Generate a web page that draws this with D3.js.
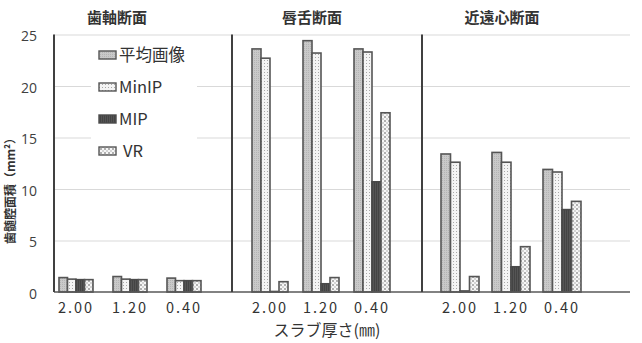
<!DOCTYPE html>
<html>
<head>
<meta charset="utf-8">
<script src="https://cdn.jsdelivr.net/npm/d3@7"></script>
<style>
  body { margin: 0; background: #fff; }
  svg { display: block; }
</style>
</head>
<body>
<script>
// データ
var panels = ["歯軸断面", "唇舌断面", "近遠心断面"];
var slabs = ["2.00", "1.20", "0.40"];
var seriesNames = ["平均画像", "MinIP", "MIP", "VR"];
var yTicks = [0, 5, 10, 15, 20, 25];

// 値は パネル順 (歯軸, 唇舌, 近遠心) x スラブ厚 (2.00, 1.20, 0.40)
var meanVals = [1.4, 1.5, 1.35, 23.6, 24.4, 23.6, 13.4, 13.55, 11.9];
var minipVals = [1.25, 1.25, 1.1, 22.7, 23.2, 23.3, 12.6, 12.6, 11.65];
var mipVals = [1.2, 1.2, 1.1, 0.05, 0.8, 10.7, 0.1, 2.45, 8.0];
var vrVals = [1.2, 1.2, 1.1, 1.0, 1.4, 17.4, 1.5, 4.4, 8.8];

var allVals = [meanVals, minipVals, mipVals, vrVals];

var width = 642, height = 343;
var plotLeft = 54, plotRight = 630, plotTop = 34.5, plotBottom = 292;

// パネルごとの配置
var layout = [
  { g0: 49, g1: 211, bw: 8.5, tx: 117 },
  { g0: 244.5, g1: 397.5, bw: 9, tx: 312 },
  { g0: 434.5, g1: 587.5, bw: 9.5, tx: 502 }
];

var svg = d3.select("body").append("svg")
  .attr("width", width)
  .attr("height", height);

// パターン
var defs = svg.append("defs");

var p1 = defs.append("pattern").attr("id", "patMean")
  .attr("patternUnits", "userSpaceOnUse").attr("width", 2).attr("height", 2);
p1.append("rect").attr("width", 2).attr("height", 2).attr("fill", "#c9c9c9");
p1.append("rect").attr("width", 1).attr("height", 1).attr("fill", "#b4b4b4");

var p2 = defs.append("pattern").attr("id", "patMinip")
  .attr("patternUnits", "userSpaceOnUse").attr("width", 3).attr("height", 3);
p2.append("rect").attr("width", 3).attr("height", 3).attr("fill", "#f4f4f4");
p2.append("rect").attr("width", 1).attr("height", 1).attr("fill", "#a8a8a8");

var p3 = defs.append("pattern").attr("id", "patMip")
  .attr("patternUnits", "userSpaceOnUse").attr("width", 2).attr("height", 2);
p3.append("rect").attr("width", 2).attr("height", 2).attr("fill", "#555");
p3.append("rect").attr("width", 1).attr("height", 2).attr("fill", "#444");

var p4 = defs.append("pattern").attr("id", "patVr")
  .attr("patternUnits", "userSpaceOnUse").attr("width", 4).attr("height", 4);
p4.append("rect").attr("width", 4).attr("height", 4).attr("fill", "#f6f6f6");
p4.append("rect").attr("x", 0).attr("y", 0).attr("width", 2).attr("height", 2).attr("fill", "#b0b0b0");
p4.append("rect").attr("x", 2).attr("y", 2).attr("width", 2).attr("height", 2).attr("fill", "#d4d4d4");

var fills = ["url(#patMean)", "url(#patMinip)", "url(#patMip)", "url(#patVr)"];
var strokes = ["#555", "#555", "#4a4a4a", "#555"];

var y = d3.scaleLinear().domain([0, 25]).range([plotBottom, plotTop]);

// グリッド線
var grid = svg.append("g")
  .attr("transform", "translate(" + plotLeft + ",0)")
  .call(d3.axisLeft(y).tickValues(yTicks.slice(1)).tickSize(-(plotRight - plotLeft)).tickFormat(""));
grid.select(".domain").remove();
grid.selectAll("line").attr("stroke", "#d9d9d9").attr("stroke-width", 1);

// Y軸ラベル
var yAxis = svg.append("g")
  .attr("transform", "translate(37,0)")
  .call(d3.axisLeft(y).tickValues(yTicks).tickSize(0).tickPadding(0));
yAxis.select(".domain").remove();
yAxis.selectAll("text")
  .attr("dy", "0.45em")
  .attr("font-family", "'Open Sans', sans-serif")
  .attr("font-size", 14)
  .attr("fill", "#404040");

// 凡例の背景
svg.append("rect")
  .attr("x", 91).attr("y", 40)
  .attr("width", 106).attr("height", 144)
  .attr("fill", "#fff");

// 棒
panels.forEach(function(pName, pi) {
  var L = layout[pi];
  var x0 = d3.scaleBand().domain(slabs).range([L.g0, L.g1]);
  var x1 = d3.scaleBand().domain(seriesNames).range([0, L.bw * 4]);

  var g = svg.append("g");
  slabs.forEach(function(s, si) {
    var gx = x0(s) + x0.bandwidth() / 2 - L.bw * 2;
    seriesNames.forEach(function(name, k) {
      var v = allVals[k][pi * 3 + si];
      g.append("rect")
        .attr("x", gx + x1(name))
        .attr("y", y(v))
        .attr("width", x1.bandwidth())
        .attr("height", plotBottom - y(v))
        .attr("fill", fills[k])
        .attr("stroke", strokes[k])
        .attr("stroke-width", 1.6);
    });
  });

  // X軸ラベル
  var xAxis = svg.append("g")
    .attr("transform", "translate(0,301)")
    .call(d3.axisBottom(x0).tickSize(0).tickPadding(0));
  xAxis.select(".domain").remove();
  xAxis.selectAll("text")
    .attr("dy", "0.85em")
    .attr("font-family", "'Noto Sans CJK JP', sans-serif")
    .attr("font-size", 14.5)
    .attr("letter-spacing", "2px")
    .attr("fill", "#333");

  // パネルタイトル
  svg.append("text")
    .attr("x", L.tx)
    .attr("y", 23)
    .attr("text-anchor", "middle")
    .attr("font-family", "'Noto Sans CJK JP', sans-serif")
    .attr("font-weight", "bold")
    .attr("font-size", 15)
    .attr("fill", "#333")
    .text(pName);
});

// 軸線・区切り線
svg.append("line")
  .attr("x1", plotLeft).attr("x2", plotRight)
  .attr("y1", plotBottom).attr("y2", plotBottom)
  .attr("stroke", "#595959").attr("stroke-width", 1.5);

[54, 232, 422].forEach(function(xx) {
  svg.append("line")
    .attr("x1", xx).attr("x2", xx)
    .attr("y1", plotTop).attr("y2", plotBottom)
    .attr("stroke", "#404040").attr("stroke-width", 2);
});

// 凡例
var legend = svg.append("g");
seriesNames.forEach(function(name, k) {
  var ly = 55 + k * 32;
  legend.append("rect")
    .attr("x", 99).attr("y", ly - 4)
    .attr("width", 17).attr("height", 8)
    .attr("fill", fills[k])
    .attr("stroke", strokes[k])
    .attr("stroke-width", 1.4);
  legend.append("text")
    .attr("x", k === 3 ? 123 : 119)
    .attr("y", ly)
    .attr("dy", "0.36em")
    .attr("font-family", "'Noto Sans CJK JP', sans-serif")
    .attr("font-size", 16.5)
    .attr("fill", "#333")
    .text(name);
});

// 軸タイトル
svg.append("text")
  .attr("transform", "translate(15,188) rotate(-90)")
  .attr("text-anchor", "middle")
  .attr("font-family", "'Noto Sans CJK JP', sans-serif")
  .attr("font-weight", "bold")
  .attr("font-size", 12)
  .attr("fill", "#333")
  .text("歯髄腔面積（mm²）");

svg.append("text")
  .attr("x", 327)
  .attr("y", 336)
  .attr("text-anchor", "middle")
  .attr("font-family", "'Noto Sans CJK JP', sans-serif")
  .attr("font-size", 16)
  .attr("fill", "#333")
  .text("スラブ厚さ(㎜)");
</script>
</body>
</html>
